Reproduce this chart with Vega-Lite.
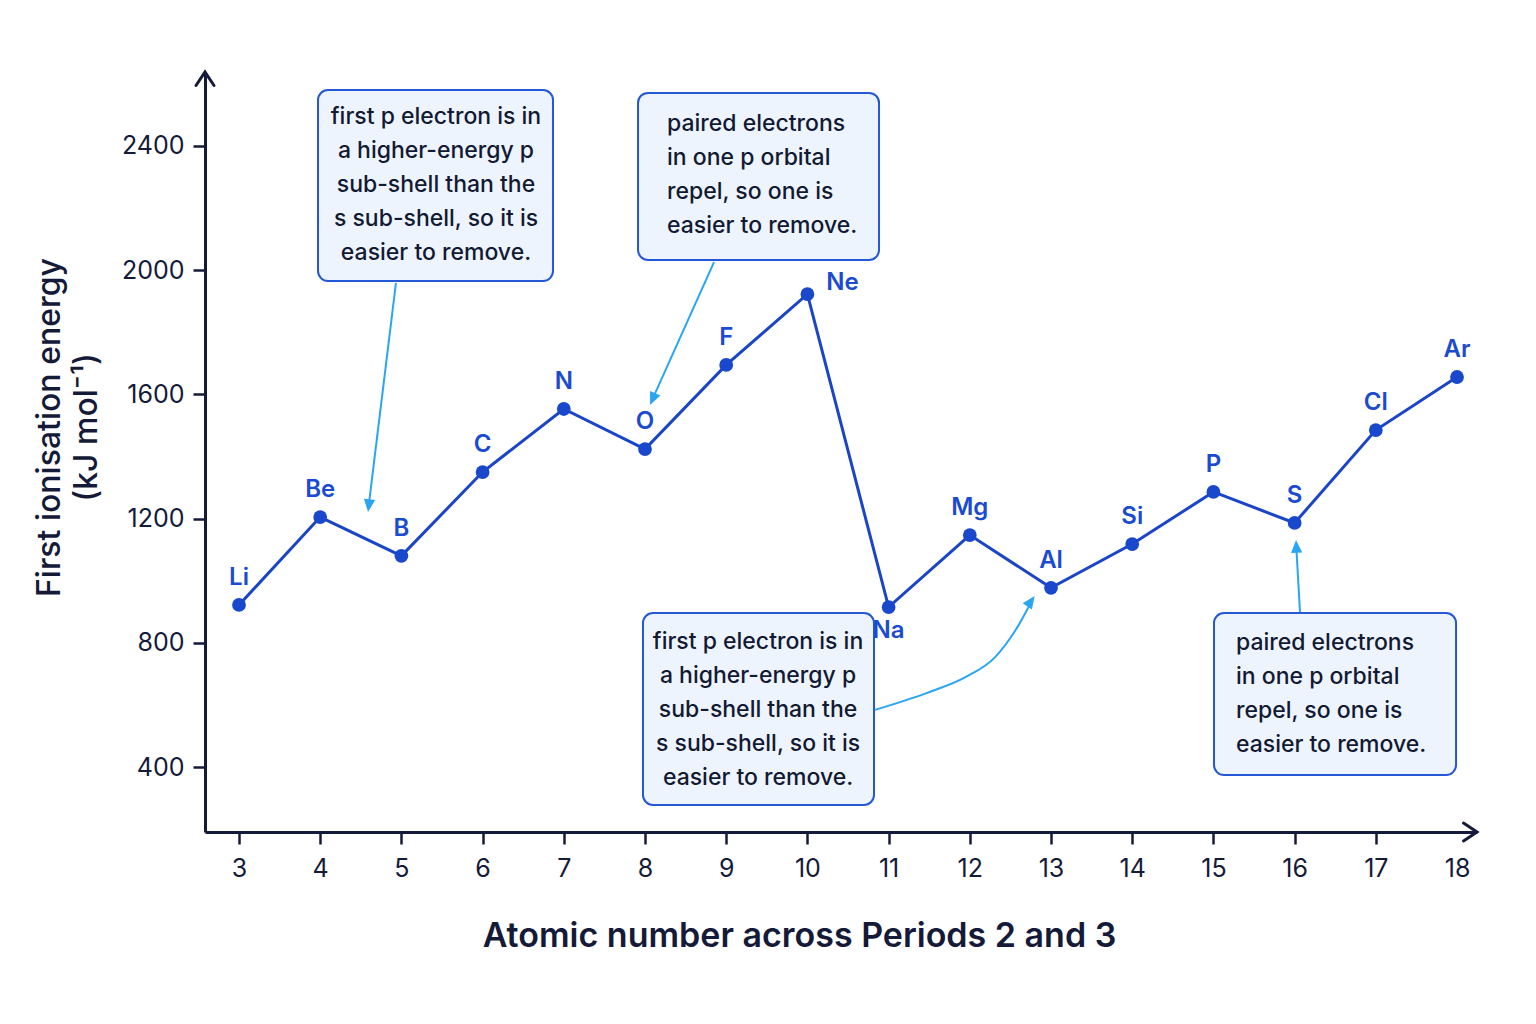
{
  "$schema": "https://vega.github.io/schema/vega-lite/v6.json",
  "autosize": "none",
  "width": 1272,
  "height": 760,
  "padding": {"left": 205, "top": 72, "right": 59, "bottom": 192},
  "background": "#ffffff",
  "config": {
    "view": {"stroke": null},
    "font": "Inter",
    "axis": {"grid": false, "labelFont": "Inter", "titleFont": "Inter"}
  },
  "datasets": {
    "elements": [
      {"z": 3, "sym": "Li", "ie": 922, "side": "above"},
      {"z": 4, "sym": "Be", "ie": 1205, "side": "above"},
      {"z": 5, "sym": "B", "ie": 1080, "side": "above"},
      {"z": 6, "sym": "C", "ie": 1350, "side": "above"},
      {"z": 7, "sym": "N", "ie": 1553, "side": "above"},
      {"z": 8, "sym": "O", "ie": 1424, "side": "above"},
      {"z": 9, "sym": "F", "ie": 1695, "side": "above"},
      {"z": 10, "sym": "Ne", "ie": 1923, "side": "right"},
      {"z": 11, "sym": "Na", "ie": 915, "side": "below"},
      {"z": 12, "sym": "Mg", "ie": 1147, "side": "above"},
      {"z": 13, "sym": "Al", "ie": 977, "side": "above"},
      {"z": 14, "sym": "Si", "ie": 1118, "side": "above"},
      {"z": 15, "sym": "P", "ie": 1286, "side": "above"},
      {"z": 16, "sym": "S", "ie": 1186, "side": "above"},
      {"z": 17, "sym": "Cl", "ie": 1485, "side": "above"},
      {"z": 18, "sym": "Ar", "ie": 1656, "side": "above"}
    ],
    "boxes": [
      {"x1": 3.973, "x2": 6.867, "y1": 2580, "y2": 1965, "tx": 5.426, "ty": 2493, "just": "center",
       "note": "first p electron is in\na higher-energy p\nsub-shell than the\ns sub-shell, so it is\neasier to remove."},
      {"x1": 7.914, "x2": 10.882, "y1": 2571, "y2": 2033, "tx": 8.271, "ty": 2471, "just": "left",
       "note": "paired electrons\nin one p orbital\nrepel, so one is\neasier to remove."},
      {"x1": 7.975, "x2": 10.82, "y1": 896, "y2": 278, "tx": 9.392, "ty": 803, "just": "center",
       "note": "first p electron is in\na higher-energy p\nsub-shell than the\ns sub-shell, so it is\neasier to remove."},
      {"x1": 15.007, "x2": 17.988, "y1": 896, "y2": 374, "tx": 15.278, "ty": 799, "just": "left",
       "note": "paired electrons\nin one p orbital\nrepel, so one is\neasier to remove."}
    ],
    "arrows": [
      {"id": 1, "ord": 0, "x": 4.933, "y": 1959},
      {"id": 1, "ord": 1, "x": 4.597, "y": 1241},
      {"id": 2, "ord": 0, "x": 8.85, "y": 2026},
      {"id": 2, "ord": 1, "x": 8.091, "y": 1584},
      {"id": 3, "ord": 0, "x": 10.833, "y": 584},
      {"id": 3, "ord": 1, "x": 11.466, "y": 638},
      {"id": 3, "ord": 2, "x": 11.952, "y": 690},
      {"id": 3, "ord": 3, "x": 12.312, "y": 754},
      {"id": 3, "ord": 4, "x": 12.564, "y": 841},
      {"id": 3, "ord": 5, "x": 12.729, "y": 918},
      {"id": 4, "ord": 0, "x": 16.066, "y": 899},
      {"id": 4, "ord": 1, "x": 16.02, "y": 1112}
    ],
    "heads": [
      {"id": 1, "x": 4.589, "y": 1221, "heading": 187},
      {"id": 2, "x": 8.062, "y": 1566, "heading": 204},
      {"id": 3, "x": 12.798, "y": 951, "heading": 35},
      {"id": 4, "x": 16.017, "y": 1131, "heading": 357}
    ],
    "axisEnds": [
      {"x": 18.246, "y": 190.7, "dir": "right"},
      {"x": 2.5813, "y": 2638.3, "dir": "up"}
    ]
  },
  "layer": [
    {
      "data": {"name": "boxes"},
      "mark": {"type": "rect", "cornerRadius": 10, "fill": "#eef4fd", "stroke": "#2458d8", "strokeWidth": 2},
      "encoding": {
        "x": {
          "field": "x1", "type": "quantitative",
          "scale": {"domain": [2.5813, 18.246], "nice": false, "zero": false},
          "axis": {
            "values": [3, 4, 5, 6, 7, 8, 9, 10, 11, 12, 13, 14, 15, 16, 17, 18],
            "format": "d",
            "title": "Atomic number across Periods 2 and 3",
            "titleFontSize": 34, "titleFontWeight": 600, "titleColor": "#141a38",
            "titleX": 594, "titleY": 114, "titleBaseline": "alphabetic", "titleAlign": "center",
            "labelFontSize": 25, "labelColor": "#141a38", "labelPadding": 12,
            "labelOverlap": false, "labelFlush": false,
            "domainColor": "#141a3a", "domainWidth": 3,
            "tickColor": "#141a3a", "tickWidth": 2.5, "tickSize": 12,
            "tickOpacity": {"condition": {"test": "datum.value === 18", "value": 0}, "value": 1}
          }
        },
        "x2": {"field": "x2"},
        "y": {
          "field": "y1", "type": "quantitative",
          "scale": {"domain": [190.7, 2638.3], "nice": false, "zero": false},
          "axis": {
            "values": [400, 800, 1200, 1600, 2000, 2400],
            "format": "d",
            "title": ["First ionisation energy", "(kJ mol⁻¹)"],
            "titleFontSize": 32, "titleFontWeight": 500, "titleColor": "#141a38",
            "titleX": -146, "titleY": 355, "titleBaseline": "alphabetic", "titleAlign": "center",
            "titleLineHeight": 37,
            "labelFontSize": 25, "labelColor": "#141a38", "labelPadding": 9,
            "domainColor": "#141a3a", "domainWidth": 3,
            "tickColor": "#141a3a", "tickWidth": 2.5, "tickSize": 12
          }
        },
        "y2": {"field": "y2"}
      }
    },
    {
      "data": {"name": "boxes"},
      "transform": [{"filter": "datum.just === 'center'"}],
      "mark": {"type": "text", "align": "center", "baseline": "middle", "fontSize": 23, "fontWeight": 500, "lineHeight": 34, "lineBreak": "\n", "color": "#121a33"},
      "encoding": {
        "x": {"field": "tx", "type": "quantitative"},
        "y": {"field": "ty", "type": "quantitative"},
        "text": {"field": "note"}
      }
    },
    {
      "data": {"name": "boxes"},
      "transform": [{"filter": "datum.just === 'left'"}],
      "mark": {"type": "text", "align": "left", "baseline": "middle", "fontSize": 23, "fontWeight": 500, "lineHeight": 34, "lineBreak": "\n", "color": "#121a33"},
      "encoding": {
        "x": {"field": "tx", "type": "quantitative"},
        "y": {"field": "ty", "type": "quantitative"},
        "text": {"field": "note"}
      }
    },
    {
      "data": {"name": "arrows"},
      "mark": {"type": "line", "color": "#2aa5f2", "strokeWidth": 2, "interpolate": "monotone"},
      "encoding": {
        "x": {"field": "x", "type": "quantitative"},
        "y": {"field": "y", "type": "quantitative"},
        "detail": {"field": "id"},
        "order": {"field": "ord"}
      }
    },
    {
      "data": {"name": "heads"},
      "mark": {"type": "point", "shape": "M0,0 L0.75,1.7 L-0.75,1.7 Z", "filled": true, "size": 225, "color": "#2aa5f2", "opacity": 1},
      "encoding": {
        "x": {"field": "x", "type": "quantitative"},
        "y": {"field": "y", "type": "quantitative"},
        "angle": {"field": "heading", "type": "quantitative", "scale": null}
      }
    },
    {
      "data": {"name": "elements"},
      "mark": {"type": "line", "color": "#1a45c8", "strokeWidth": 3},
      "encoding": {
        "x": {"field": "z", "type": "quantitative"},
        "y": {"field": "ie", "type": "quantitative"}
      }
    },
    {
      "data": {"name": "elements"},
      "mark": {"type": "point", "filled": true, "size": 190, "color": "#1a48cc", "opacity": 1},
      "encoding": {
        "x": {"field": "z", "type": "quantitative"},
        "y": {"field": "ie", "type": "quantitative"}
      }
    },
    {
      "data": {"name": "elements"},
      "transform": [{"filter": "datum.side === 'above'"}],
      "mark": {"type": "text", "dy": -27, "fontSize": 24, "fontWeight": 600, "color": "#1a4bd0", "baseline": "middle"},
      "encoding": {
        "x": {"field": "z", "type": "quantitative"},
        "y": {"field": "ie", "type": "quantitative"},
        "text": {"field": "sym"}
      }
    },
    {
      "data": {"name": "elements"},
      "transform": [{"filter": "datum.side === 'right'"}],
      "mark": {"type": "text", "dx": 35, "dy": -11, "fontSize": 24, "fontWeight": 600, "color": "#1a4bd0", "baseline": "middle"},
      "encoding": {
        "x": {"field": "z", "type": "quantitative"},
        "y": {"field": "ie", "type": "quantitative"},
        "text": {"field": "sym"}
      }
    },
    {
      "data": {"name": "elements"},
      "transform": [{"filter": "datum.side === 'below'"}],
      "mark": {"type": "text", "dy": 24, "fontSize": 24, "fontWeight": 600, "color": "#1a4bd0", "baseline": "middle"},
      "encoding": {
        "x": {"field": "z", "type": "quantitative"},
        "y": {"field": "ie", "type": "quantitative"},
        "text": {"field": "sym"}
      }
    },
    {
      "data": {"name": "axisEnds"},
      "transform": [{"filter": "datum.dir === 'right'"}],
      "mark": {"type": "point", "shape": "M-1.5,-1 L0,0 L-1.5,1", "filled": false, "size": 324, "stroke": "#141a3a", "strokeWidth": 3, "strokeCap": "round", "opacity": 1},
      "encoding": {
        "x": {"field": "x", "type": "quantitative"},
        "y": {"field": "y", "type": "quantitative"}
      }
    },
    {
      "data": {"name": "axisEnds"},
      "transform": [{"filter": "datum.dir === 'up'"}],
      "mark": {"type": "point", "shape": "M-1,1.5 L0,0 L1,1.5", "filled": false, "size": 324, "stroke": "#141a3a", "strokeWidth": 3, "strokeCap": "round", "opacity": 1},
      "encoding": {
        "x": {"field": "x", "type": "quantitative"},
        "y": {"field": "y", "type": "quantitative"}
      }
    }
  ]
}
